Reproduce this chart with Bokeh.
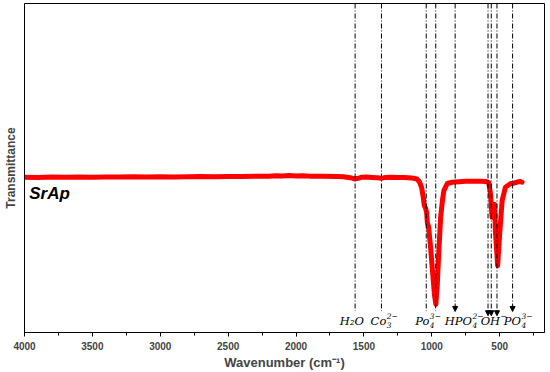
from bokeh.plotting import figure
from bokeh.models import (Range1d, FixedTicker, ColumnDataSource, Arrow, NormalHead)
from bokeh.core.properties import value
from bokeh.embed import file_html
from bokeh.resources import INLINE

# FTIR spectrum of SrAp (wavenumber cm^-1, transmittance in arbitrary units)
wavenumber = [4000, 3900, 3800, 3700, 3600, 3500, 3400, 3300, 3200, 3100, 3000,
              2900, 2800, 2700, 2600, 2500, 2400, 2300, 2200, 2150, 2100, 2050,
              2000, 1950, 1900, 1800, 1700, 1650, 1600, 1570, 1550, 1520, 1480,
              1440, 1400, 1372, 1340, 1300, 1250, 1200, 1150, 1110, 1090, 1075,
              1065, 1055, 1045, 1038, 1033, 1024, 1010, 995, 980, 970, 960, 948,
              935, 920, 911, 886, 850, 800, 750, 700, 642, 600, 581, 568, 556,
              544, 537, 532, 515, 500, 482, 458, 422, 397, 370, 348, 335]
transmittance = [47.20, 47.14, 47.23, 47.17, 47.26, 47.20, 47.29, 47.23, 47.32, 47.26, 47.35,
                 47.29, 47.32, 47.41, 47.35, 47.44, 47.41, 47.50, 47.47, 47.66, 47.56, 47.72,
                 47.59, 47.66, 47.53, 47.50, 47.41, 47.32, 47.05, 46.71, 46.80, 47.17, 47.26,
                 47.14, 47.05, 46.86, 47.14, 47.17, 47.11, 47.08, 46.99, 46.65, 45.74, 44.06,
                 41.63, 38.58, 37.67, 36.45, 33.40, 32.19, 26.40, 18.79, 11.18, 8.59, 14.22, 24.88,
                 35.02, 40.71, 43.15, 45.28, 45.68, 45.83, 45.95, 46.01, 45.98, 45.89, 45.58, 42.24, 35.02,
                 37.67, 38.89, 30.97, 20.31, 30.06, 40.10, 44.15, 45.19, 45.37, 45.74, 45.89, 45.68]

# Band marker lines (no arrow head)
band_x = [1565, 1371, 1041, 971]
band_end = [6.5, 6.5, 6.5, 6.5]
# Band marker lines with arrow heads
arrow_x = [828, 586, 562, 520, 405]
arrow_end = [6.4, 5.1, 5.1, 5.1, 6.4]

# Band labels: base text ends at the anchor, sub/superscripts start there
label_anchor = [1500, 1335, 1018, 704, 497, 343]
label_base = ["H\u2082O", "Co", "Po", "HPO", "OH", "PO"]
label_sub = ["", "3", "4", "4", "", "4"]
label_sup = ["", "2\u2212", "3\u2212", "2\u2212", "\u2212", "3\u2212"]
label_y = 3.6

x_ticks = [4000, 3500, 3000, 2500, 2000, 1500, 1000, 500]
x_minor = [3750, 3250, 2750, 2250, 1750, 1250, 750, 250]
x_start, x_end = 4000, 170
y_start, y_end = 0.0, 100.0

sample_name = "SrAp"
sample_x, sample_y = 3965, 42.2

p = figure(width=550, height=372, output_backend="svg", toolbar_location=None,
           x_range=Range1d(x_start, x_end), y_range=Range1d(y_start, y_end),
           min_border_left=23, min_border_right=6, min_border_top=3, min_border_bottom=40)
p.background_fill_color = "white"
p.border_fill_color = "white"
p.grid.visible = False
p.outline_line_color = "black"
p.outline_line_width = 1

# x axis
xa = p.xaxis[0]
xa.ticker = FixedTicker(ticks=x_ticks, minor_ticks=x_minor)
xa.axis_label = "Wavenumber (cm\u207b\u00b9)"
xa.axis_label_text_font = "Liberation Sans"
xa.axis_label_text_font_style = "bold"
xa.axis_label_text_font_size = "13px"
xa.axis_label_standoff = 2
xa.major_label_text_font = "Liberation Sans"
xa.major_label_text_font_style = "bold"
xa.major_label_text_font_size = "10px"
xa.major_label_standoff = 5
xa.major_tick_out = 4
xa.major_tick_in = 0
xa.minor_tick_out = 3
xa.minor_tick_in = 0
xa.axis_line_color = "black"
xa.major_tick_line_color = "black"
xa.minor_tick_line_color = "black"

# y axis
ya = p.yaxis[0]
ya.ticker = FixedTicker(ticks=[])
ya.axis_label = "Transmittance"
ya.axis_label_text_font = "Liberation Sans"
ya.axis_label_text_font_style = "bold"
ya.axis_label_text_font_size = "12px"
ya.axis_label_standoff = 7
ya.major_tick_line_color = None
ya.minor_tick_line_color = None
ya.major_label_text_font_size = "0px"
ya.axis_line_color = "black"

# spectrum
p.line(wavenumber, transmittance, line_color="#ff0000", line_width=5,
       line_join="round", line_cap="round")

# dash-dot band lines
p.segment(x0=band_x, y0=[y_end] * len(band_x), x1=band_x, y1=band_end,
          line_color="black", line_width=1, line_dash="5 2 1 2")

arr_src = ColumnDataSource(dict(x0=arrow_x, y0=[y_end] * len(arrow_x),
                                x1=arrow_x, y1=arrow_end))
p.add_layout(Arrow(end=NormalHead(size=5, fill_color="black", line_color="black", line_width=1),
                   x_start="x0", y_start="y0", x_end="x1", y_end="y1", source=arr_src,
                   line_color="black", line_width=1, line_dash="5 2 1 2"))

# band labels (base + stacked sub/superscripts)
ly = [label_y] * len(label_anchor)
p.text(x=label_anchor, y=ly, text=label_base,
       text_font=value("DejaVu Serif"), text_font_style="italic",
       text_font_size="11.5px", text_align="right", text_baseline="middle",
       text_color="black")
p.text(x=label_anchor, y=ly, text=label_sup, x_offset=0.5, y_offset=-4.5,
       text_font=value("DejaVu Serif"), text_font_style="italic",
       text_font_size="7.5px", text_align="left", text_baseline="middle",
       text_color="black")
p.text(x=label_anchor, y=ly, text=label_sub, x_offset=0.5, y_offset=4,
       text_font=value("DejaVu Serif"), text_font_style="italic",
       text_font_size="7.5px", text_align="left", text_baseline="middle",
       text_color="black")

# sample name
p.text(x=[sample_x], y=[sample_y], text=[sample_name],
       text_font=value("Liberation Sans"), text_font_style="bold italic",
       text_font_size="17px", text_align="left", text_baseline="middle",
       text_color="black")

open("out.html", "w").write(file_html(p, INLINE))
